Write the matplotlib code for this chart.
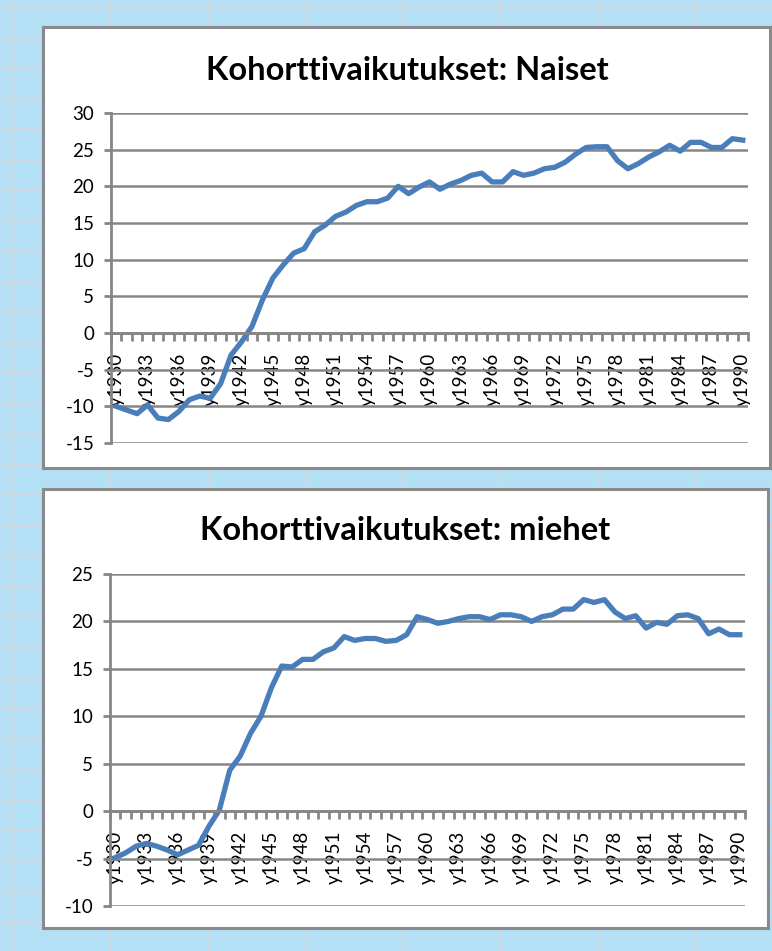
import numpy as np
import matplotlib
matplotlib.use("Agg")
import matplotlib.pyplot as plt
from matplotlib.patches import Rectangle

plt.rcParams['font.family'] = ['Lato', 'DejaVu Sans']
plt.rcParams['axes.unicode_minus'] = False

# vuodet y1930 ... y1990
vuodet = ['y%d' % v for v in range(1930, 1991)]

naiset = [-10.0, -10.5, -11.0, -9.8, -11.6, -11.8, -10.7, -9.1, -8.6, -8.9,
          -6.9, -3.0, -1.2, 0.9, 4.5, 7.5, 9.3, 10.9, 11.5, 13.8,
          14.7, 15.9, 16.5, 17.4, 17.9, 17.9, 18.4, 20.0, 19.0, 19.9,
          20.6, 19.6, 20.3, 20.8, 21.5, 21.8, 20.6, 20.6, 22.0, 21.5,
          21.8, 22.4, 22.6, 23.3, 24.4, 25.3, 25.4, 25.4, 23.5, 22.4,
          23.1, 24.0, 24.7, 25.6, 24.8, 26.0, 26.0, 25.3, 25.3, 26.5,
          26.3]

miehet = [-4.9, -4.4, -3.7, -3.4, -3.7, -4.1, -4.6, -4.1, -3.6, -1.6,
          0.1, 4.3, 5.8, 8.2, 10.0, 13.0, 15.3, 15.2, 16.0, 16.0,
          16.8, 17.2, 18.4, 18.0, 18.2, 18.2, 17.9, 18.0, 18.6, 20.5,
          20.2, 19.8, 20.0, 20.3, 20.5, 20.5, 20.2, 20.7, 20.7, 20.5,
          20.0, 20.5, 20.7, 21.3, 21.3, 22.3, 22.0, 22.3, 21.0, 20.3,
          20.6, 19.3, 19.9, 19.7, 20.6, 20.7, 20.3, 18.7, 19.2, 18.6,
          18.6]

W, H = 772, 951
fig = plt.figure(figsize=(W / 100, H / 100), dpi=100)
fig.patch.set_facecolor('#b3e0f5')

# taustan ruudukko
bg = fig.add_axes([0, 0, 1, 1])
bg.set_xlim(0, W)
bg.set_ylim(H, 0)
bg.axis('off')
for x in np.arange(13, W, 97.5):
    bg.axvline(x, color='#cfd8e0', lw=1.5)
for y in np.arange(7, H, 30.5):
    bg.axhline(y, color='#cfd8e0', lw=1.5)

# valkoiset laatikot
bg.add_patch(Rectangle((43, 27), 727, 441, facecolor='white', edgecolor='#8a8a8a', lw=2.2, zorder=3))
bg.add_patch(Rectangle((43, 489), 725, 439, facecolor='white', edgecolor='#8a8a8a', lw=2.2, zorder=3))
bg.text(407, 70, 'Kohorttivaikutukset: Naiset', ha='center', va='center',
        fontsize=23.5, fontweight='bold', zorder=4)
bg.text(405, 530, 'Kohorttivaikutukset: miehet', ha='center', va='center',
        fontsize=23.5, fontweight='bold', zorder=4)


def piirra(rect, arvot, ymin, ymax):
    ax = fig.add_axes(rect)
    ax.patch.set_alpha(0)
    n = len(arvot)
    x = np.arange(n)
    ax.plot(x, arvot, color='#4a7ebb', lw=3.8, solid_joinstyle='round', clip_on=False)
    ax.set_xlim(-0.5, n - 0.5)
    ax.set_ylim(ymin, ymax)
    ax.set_yticks(np.arange(ymin, ymax + 1, 5))
    ax.yaxis.grid(True, color='#868686', lw=1.8)
    ax.spines['top'].set_visible(False)
    ax.spines['right'].set_visible(False)
    ax.spines['bottom'].set_position(('data', 0))
    for s in ('left', 'bottom'):
        ax.spines[s].set_color('#868686')
        ax.spines[s].set_linewidth(2)
    ax.tick_params(axis='y', length=5, width=2, color='#868686', labelsize=13.5, pad=7)
    ax.set_xticks(x[::3])
    ax.set_xticklabels(vuodet[::3], rotation=90, va='top')
    ax.set_xticks(np.arange(-0.5, n, 1), minor=True)
    ax.tick_params(axis='x', which='major', length=0, labelsize=13.5, pad=14)
    ax.tick_params(axis='x', which='minor', length=6, width=2, color='#868686', direction='out')
    return ax


piirra([111 / W, 1 - 443 / H, 637 / W, 330 / H], naiset, -15, 30)
piirra([110 / W, 1 - 906 / H, 635 / W, 332 / H], miehet, -10, 25)

fig.savefig('out.png', dpi=100, facecolor=fig.get_facecolor())
